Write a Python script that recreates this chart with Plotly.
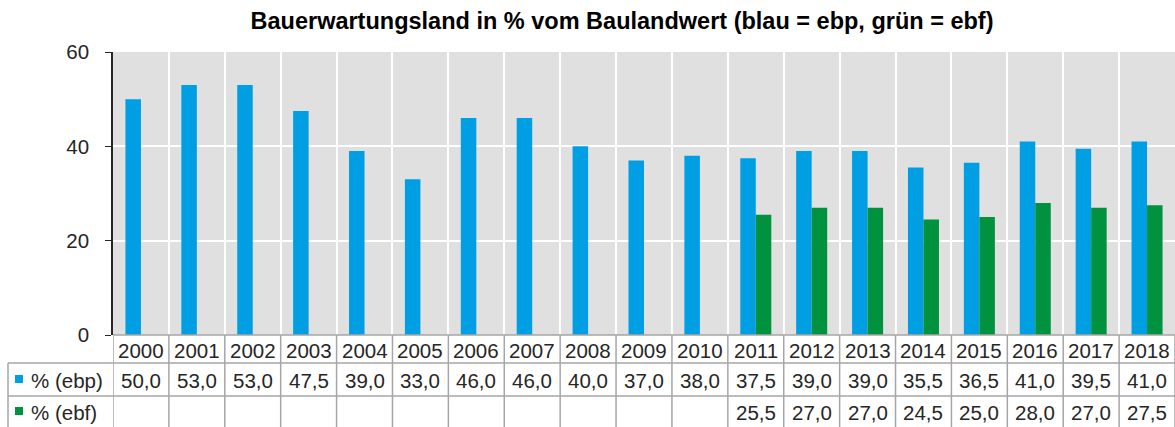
import plotly.graph_objects as go

years = [str(y) for y in range(2000, 2019)]
ebp = [50.0, 53.0, 53.0, 47.5, 39.0, 33.0, 46.0, 46.0, 40.0, 37.0, 38.0,
       37.5, 39.0, 39.0, 35.5, 36.5, 41.0, 39.5, 41.0]
ebf = [None] * 11 + [25.5, 27.0, 27.0, 24.5, 25.0, 28.0, 27.0, 27.5]
row_labels = ["% (ebp)", "% (ebf)"]
y_ticks = [0, 20, 40, 60]

BLUE = "#009FE3"
GREEN = "#00923F"
GRID = "#A6A6A6"
TXT = "#262626"
FONT = "Liberation Sans, Arial, sans-serif"

W, H = 1175, 427
ML, MR, MT, MB = 113, 0, 52, 92
ph = H - MT - MB


def py(pix):
    return (H - MB - pix) / ph


def px(pix):
    return (pix - ML) / (W - ML - MR)


fig = go.Figure()
fig.add_trace(go.Bar(x=years, y=ebp, name=row_labels[0], marker_color=BLUE,
                     marker_line_width=0))
fig.add_trace(go.Bar(x=years, y=ebf, name=row_labels[1], marker_color=GREEN,
                     marker_line_width=0))

ann = []
shapes = []
fmt = lambda v: "" if v is None else f"{v:.1f}".replace(".", ",")
row_y = [py(350), py(380), py(412)]
cell_font = dict(size=20.5, color=TXT, family=FONT)
for i, yr in enumerate(years):
    ann.append(dict(x=i, y=row_y[0], xref="x", yref="paper", text=yr, yanchor="middle",
                    showarrow=False, font=cell_font))
    ann.append(dict(x=i, y=row_y[1], xref="x", yref="paper", text=fmt(ebp[i]),
                    yanchor="middle", showarrow=False, font=cell_font))
    if ebf[i] is not None:
        ann.append(dict(x=i, y=row_y[2], xref="x", yref="paper", text=fmt(ebf[i]),
                        yanchor="middle", showarrow=False, font=cell_font))

for k, (lab, col) in enumerate(zip(row_labels, [BLUE, GREEN])):
    yc = row_y[k + 1]
    ann.append(dict(x=px(29), y=yc, xref="paper", yref="paper", text=lab,
                    xanchor="left", yanchor="middle", showarrow=False, font=cell_font))
    shapes.append(dict(type="rect", xref="paper", yref="paper",
                       x0=px(15), x1=px(23), y0=yc - 3 / ph, y1=yc + 5 / ph,
                       fillcolor=col, line_width=0))

# table grid
for i in range(len(years) + 1):
    shapes.append(dict(type="line", xref="x", yref="paper", x0=i - 0.5, x1=i - 0.5,
                       y0=0, y1=py(428), line=dict(color=GRID, width=1.5)))
for yp in [363, 396]:
    shapes.append(dict(type="line", xref="paper", yref="paper", x0=px(8), x1=1,
                       y0=py(yp), y1=py(yp), line=dict(color=GRID, width=1.5)))
shapes.append(dict(type="line", xref="paper", yref="paper", x0=px(8), x1=px(8),
                   y0=py(363), y1=py(428), line=dict(color=GRID, width=1.5)))
shapes.append(dict(type="line", xref="paper", yref="paper", x0=0, x1=1,
                   y0=0, y1=0, line=dict(color=GRID, width=1.5)))

fig.update_layout(
    width=W, height=H,
    margin=dict(l=ML, r=MR, t=MT, b=MB),
    paper_bgcolor="white", plot_bgcolor="#E0E0E0",
    barmode="group", bargap=0.445, bargroupgap=0,
    showlegend=False,
    font=dict(family=FONT, color=TXT),
    title=dict(text="<b>Bauerwartungsland in % vom Baulandwert (blau = ebp, grün = ebf)</b>",
               x=622 / W, xref="container", xanchor="center",
               y=1 - 21 / H, yref="container", yanchor="middle",
               font=dict(size=23.5, color="#000000", family=FONT)),
    xaxis=dict(type="category", showticklabels=False, ticks="",
               tickson="boundaries", showgrid=True, gridcolor="white", gridwidth=1.5,
               showline=False, zeroline=False, range=[-0.5, len(years) - 0.5]),
    yaxis=dict(range=[0, 60], tickvals=y_ticks, ticks="outside", ticklen=6,
               tickcolor="#262626", showline=True, linecolor="#262626", linewidth=1.5,
               showgrid=True, gridcolor="white", gridwidth=1.5, zeroline=False,
               tickfont=dict(size=20.5, color=TXT, family=FONT),
               ticklabelstandoff=12),
    annotations=ann, shapes=shapes,
)

fig.write_html("out.html", config={"displayModeBar": False},
               post_script="document.body.style.margin='0';document.body.style.overflow='hidden';")
